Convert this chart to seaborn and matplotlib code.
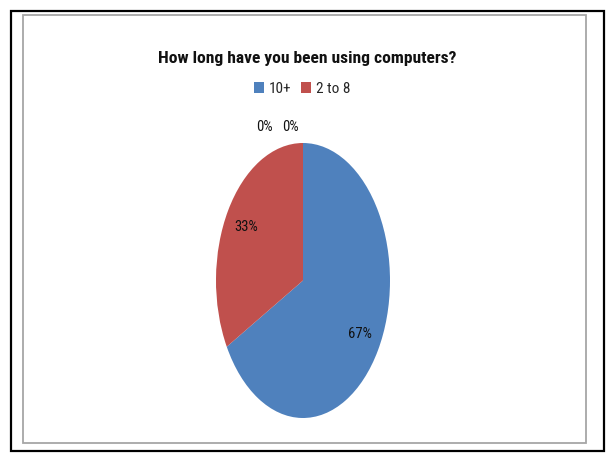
import numpy as np
import matplotlib
matplotlib.use("Agg")
import matplotlib.pyplot as plt
from matplotlib.patches import Rectangle, Patch
import seaborn as sns

# Survey answers: years of computer use
categories = ["10+", "2 to 8", "1 to 2", "Less than 1"]
shares = [67, 33, 0, 0]
legend_categories = ["10+", "2 to 8"]
title = "How long have you been using computers?"

sns.set_theme(style="white")
plt.rcParams["font.family"] = ["Roboto Condensed", "DejaVu Sans"]

palette = sns.color_palette(["#4F81BD", "#C0504D", "#9BBB59", "#8064A2"])

fig = plt.figure(figsize=(6.07, 4.53), dpi=100)
W, H = 607, 453

def fx(px):
    return px / W

def fy(py):
    return 1 - py / H

# outer black frame and inner grey chart-area border
fig.patches.append(Rectangle((fx(11), fy(451)), fx(593), 440 / H, transform=fig.transFigure,
                             fill=False, edgecolor="black", linewidth=1.6, zorder=0))
fig.patches.append(Rectangle((fx(22.5), fy(443)), fx(563.5), 428 / H, transform=fig.transFigure,
                             fill=False, edgecolor="#A6A6A6", linewidth=1.3, zorder=0))

# pie axes (stretched vertically)
ax = fig.add_axes([fx(216), fy(418), fx(174), 275 / H])
wedges, _ = ax.pie(shares, colors=palette, startangle=90, counterclock=False,
                   wedgeprops=dict(linewidth=0))
ax.set_aspect("auto")
ax.set_xlim(-1, 1)
ax.set_ylim(-1, 1)
ax.axis("off")

zero_offsets = [(-39, 16), (-13, 16)]
zi = 0
for w, v in zip(wedges, shares):
    mid = np.deg2rad((w.theta1 + w.theta2) / 2)
    label = f"{v:.0f}%"
    if v > 0:
        ax.text(0.76 * np.cos(mid), 0.76 * np.sin(mid), label, ha="center", va="center",
                fontsize=10.5, color="#111111")
    else:
        dx, dy = zero_offsets[zi]
        zi += 1
        ax.annotate(label, xy=(np.cos(mid), np.sin(mid)), xytext=(dx, dy),
                    textcoords="offset pixels", ha="center", va="center",
                    fontsize=10.5, color="#111111", annotation_clip=False)

fig.text(fx(307), fy(58), title, ha="center", va="center", fontsize=12.6,
         fontweight="bold", color="#111111")

handles = [Patch(facecolor=palette[i], edgecolor="none") for i in range(len(legend_categories))]
fig.legend(handles, legend_categories, loc="center", bbox_to_anchor=(fx(302), fy(89)),
           ncol=2, frameon=False, fontsize=11, handlelength=0.7, handleheight=0.7,
           handletextpad=0.3, columnspacing=0.6, borderpad=0)

fig.savefig("out.png", dpi=100)
